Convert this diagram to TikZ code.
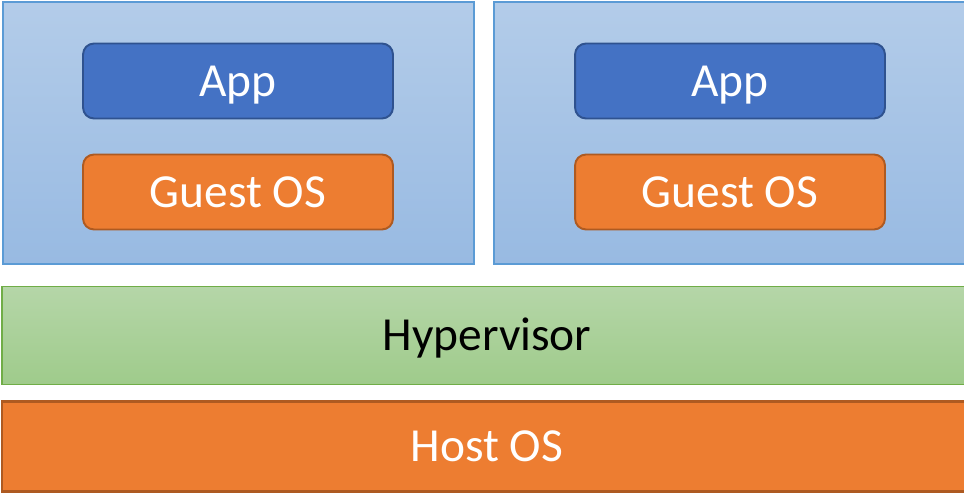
\documentclass[tikz,border=0pt]{standalone}
\usepackage{fontspec}
\setmainfont{Carlito}
\usepackage{tikz}
\usetikzlibrary{positioning}
\definecolor{vmline}{HTML}{5B9BD5}
\definecolor{vmtop}{HTML}{B3CCE9}
\definecolor{vmbot}{HTML}{98BAE2}
\definecolor{appfill}{HTML}{4472C4}
\definecolor{appline}{HTML}{2F528F}
\definecolor{osfill}{HTML}{ED7D31}
\definecolor{osline}{HTML}{AE5A21}
\definecolor{hvtop}{HTML}{B5D6A8}
\definecolor{hvbot}{HTML}{9FCB8B}
\definecolor{hvline}{HTML}{70AD47}
\tikzset{
	layer/.style = {rectangle, inner sep=0pt, align=center, text height=17.4pt,
		text depth=0pt, font=\fontsize{27}{32}\selectfont},
	vm_box/.style = {layer, draw=vmline, line width=0.8pt, top color=vmtop,
		bottom color=vmbot, minimum width=9.42cm, minimum height=5.24cm},% machine virtuelle
	app_box/.style = {layer, rounded corners=0.22cm, draw=appline, line width=1.1pt,
		fill=appfill, text=white, minimum width=6.2cm, minimum height=1.5cm},% application
	gos_box/.style = {app_box, draw=osline, fill=osfill},% systeme invite
	hv_box/.style = {layer, draw=hvline, line width=1.1pt, top color=hvtop,
		bottom color=hvbot, minimum width=19.4cm, minimum height=1.96cm},% hyperviseur
	host_box/.style = {layer, draw=osline, line width=1.4pt, fill=osfill,
		text=white, minimum width=19.4cm, minimum height=1.8cm}% systeme hote
}
\begin{document}
\begin{tikzpicture}[x=0.02cm,y=-0.02cm]
\useasboundingbox (0,0) rectangle (964,493);
\node [vm_box] (vm1) at (238.5,133) {};
\node [vm_box] (vm2) at (729.5,133) {};
\node [app_box] (app1) at (238,81) {App};
\node [gos_box] (gos1) at (238,192) {Guest OS};
\node [app_box] (app2) at (730,81) {App};
\node [gos_box] (gos2) at (730,192) {Guest OS};
\node [hv_box] (hv) at (487,335.5) {\textcolor{black}{Hypervisor}};
\node [host_box] (host) at (487,446.5) {Host OS};
\end{tikzpicture}
\end{document}
